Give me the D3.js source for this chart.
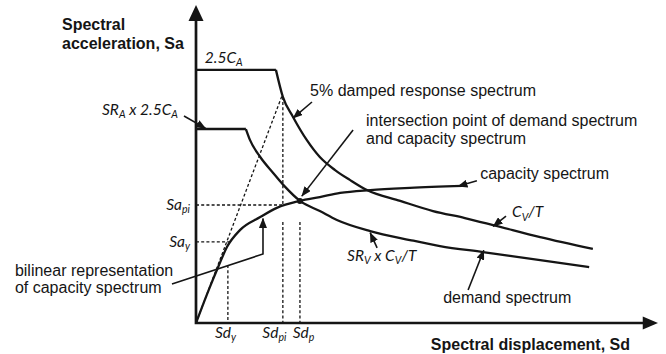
<!DOCTYPE html>
<html>
<head>
<meta charset="utf-8">
<script src="https://cdn.jsdelivr.net/npm/d3@7"></script>
<style>
  html, body { margin: 0; padding: 0; background: #fff; }
  svg { display: block; }
</style>
</head>
<body>
<svg id="chart" width="666" height="354"></svg>
<script>
// Capacity spectrum method, ADRS format (spectral displacement vs spectral acceleration,
// arbitrary units 0–100 on both axes).

// 5 % damped elastic response spectrum: 2.5CA plateau, then CV/T branch
const responseSd = [0, 17.3, 18.8, 21.0, 24.0, 26.8, 30.1, 33.3, 37.0, 44.2, 51.3, 58.2, 64.3, 74.5, 85.9];
const responseSa = [79.6, 79.6, 71.1, 64.8, 57.5, 52.2, 48.1, 45.0, 41.8, 38.4, 35.2, 33.0, 30.8, 27.0, 23.3];

// Reduced (demand) spectrum: SRA x 2.5CA plateau, then SRV x CV/T branch
const demandSd = [0, 10.8, 11.7, 13.9, 16.7, 19.3, 22.5, 26.8, 30.5, 37.7, 46.3, 52.8, 62.1, 74.5, 85.1];
const demandSa = [61.0, 61.0, 57.5, 52.2, 47.2, 42.8, 38.4, 35.2, 32.4, 28.9, 26.1, 24.2, 22.3, 19.8, 17.6];

// Capacity spectrum (pushover curve converted to ADRS)
const capacitySd = [0, 3.0, 4.8, 6.7, 9.5, 13.9, 17.5, 22.5, 26.8, 31.2, 37.7, 46.3, 57.6];
const capacitySa = [0, 11.3, 17.6, 23.9, 29.2, 33.3, 36.2, 38.4, 39.6, 40.9, 41.8, 42.5, 43.1];

// Characteristic points
const sdY = 6.7, saY = 25.5;       // yield point of the bilinear representation
const sdPi = 18.8, saPi = 37.1;    // trial performance point
const sdP = 22.5, saP = 38.4;      // intersection of demand and capacity spectra
const elasticTopSa = 71.1;         // initial stiffness line meets the 5 % spectrum at Sd = sdPi

// Tick labels (base letter, subscript)
const saTickValues = [saY, saPi];
const saTickLabels = [["Sa", "y"], ["Sa", "pi"]];
const sdTickValues = [sdY, sdPi, sdP];
const sdTickLabels = [["Sd", "y"], ["Sd", "pi"], ["Sd", "p"]];

const svg = d3.select("#chart");
const x = d3.scaleLinear().domain([0, 100]).range([196, 658]);
const y = d3.scaleLinear().domain([0, 100]).range([323, 5]);

const ink = "#151515";
const textFont = "'Liberation Sans', Arial, sans-serif";
const mathFont = "Lato, 'Open Sans', sans-serif";

// arrowhead used by the leader lines
svg.append("defs").append("marker")
  .attr("id", "tip")
  .attr("viewBox", "0 0 10 8")
  .attr("refX", 9.5).attr("refY", 4)
  .attr("markerWidth", 10).attr("markerHeight", 8)
  .attr("markerUnits", "userSpaceOnUse")
  .attr("orient", "auto")
  .append("path").attr("d", "M0,0 L10,4 L0,8 Z").attr("fill", ink);

const zip = (a, b) => a.map((v, i) => [v, b[i]]);
const line = d3.line().x(d => x(d[0])).y(d => y(d[1]));

// ---- dashed construction lines ----
const dashes = svg.append("g")
  .attr("fill", "none").attr("stroke", ink)
  .attr("stroke-width", 1.3).attr("stroke-dasharray", "3,2.2");

const guideSegments = [
  [[0, 0], [sdPi - 0.2, elasticTopSa + 0.3]],   // initial stiffness line
  [[sdPi, elasticTopSa], [sdPi, saPi]],         // from the 5 % spectrum down to Sa_pi
  [[0, saPi], [sdPi, saPi]],                    // Sa_pi
  [[0, saY], [sdY + 0.6, saY]],                 // Sa_y
  [[sdY + 0.2, 18.2], [sdY + 0.2, 0]],          // Sd_y
  [[sdPi, 31.8], [sdPi, 0]],                    // Sd_pi
  [[sdP, 31.8], [sdP, 0]]                       // Sd_p
];
dashes.selectAll("path").data(guideSegments).join("path").attr("d", line);

// ---- spectra ----
const curves = svg.append("g").attr("fill", "none").attr("stroke", ink)
  .attr("stroke-width", 2.3).attr("stroke-linejoin", "round");

function spectrum(sd, sa) {
  const pts = zip(sd, sa);
  // straight plateau, smooth descending branch
  curves.append("path").attr("d", line(pts.slice(0, 2)));
  curves.append("path").attr("d", line.curve(d3.curveMonotoneX)(pts.slice(1)));
  line.curve(d3.curveLinear);
}
spectrum(responseSd, responseSa);
spectrum(demandSd, demandSa);
curves.append("path")
  .attr("d", line.curve(d3.curveMonotoneX)(zip(capacitySd, capacitySa)));
line.curve(d3.curveLinear);

svg.append("circle").attr("cx", x(sdP)).attr("cy", y(saP)).attr("r", 3).attr("fill", ink);

// ---- axes with arrowheads ----
const axes = svg.append("g");
axes.append("path")
  .attr("d", `M${x(0)},${y(95.3)} L${x(0)},${y(0)} L${x(96.8)},${y(0)}`)
  .attr("fill", "none").attr("stroke", ink).attr("stroke-width", 2.7);
axes.append("path")
  .attr("d", `M${x(0)},${y(100)} L${x(0) - 7.5},${y(95)} L${x(0) + 7.5},${y(95)} Z`)
  .attr("fill", ink);
axes.append("path")
  .attr("d", `M${x(100)},${y(0)} L${x(96.7)},${y(0) - 6.5} L${x(96.7)},${y(0) + 6.5} Z`)
  .attr("fill", ink);

// text with an optional subscript run
function rich(sel, runs, size) {
  runs.forEach(r => {
    const ts = sel.append("tspan").text(r.t);
    if (r.sub) ts.attr("font-size", size * 0.68).attr("dy", size * 0.22);
    else if (r.after) ts.attr("dy", -size * 0.22);
  });
  return sel;
}

// ---- tick labels (italic, subscripted) ----
const mathSize = 15.5;
const yAxisG = svg.append("g").attr("transform", `translate(${x(0)},0)`)
  .call(d3.axisLeft(y).tickValues(saTickValues).tickSize(0).tickPadding(6).tickFormat(""));
yAxisG.select(".domain").remove();
yAxisG.selectAll(".tick text").each(function (d, i) {
  const t = d3.select(this).attr("font-family", mathFont).attr("font-style", "italic")
    .attr("font-size", mathSize).attr("fill", ink).attr("dy", "0.28em");
  const [b, s] = saTickLabels[i];
  rich(t, [{ t: b }, { t: s, sub: true }], mathSize);
});

const sdLabelShift = [-2, -9, 3];
const xAxisG = svg.append("g").attr("transform", `translate(0,${y(0)})`)
  .call(d3.axisBottom(x).tickValues(sdTickValues).tickSize(0).tickPadding(4).tickFormat(""));
xAxisG.select(".domain").remove();
xAxisG.selectAll(".tick text").each(function (d, i) {
  const t = d3.select(this).attr("font-family", mathFont).attr("font-style", "italic")
    .attr("font-size", mathSize).attr("fill", ink).attr("dy", "0.71em")
    .attr("x", sdLabelShift[i]);
  const [b, s] = sdTickLabels[i];
  rich(t, [{ t: b }, { t: s, sub: true }], mathSize);
});

// ---- axis titles ----
const titles = svg.append("g").attr("font-family", textFont).attr("font-weight", "bold")
  .attr("font-size", 16).attr("fill", ink);
titles.append("text").attr("x", 62).attr("y", 30).text("Spectral");
titles.append("text").attr("x", 62).attr("y", 49).text("acceleration, Sa");
titles.append("text").attr("x", 630).attr("y", 350).attr("text-anchor", "end")
  .text("Spectral displacement, Sd");

// ---- annotations: label position, leader polyline (data units) ----
const notes = svg.append("g").attr("fill", ink);
const leaders = svg.append("g").attr("fill", "none").attr("stroke", ink)
  .attr("stroke-width", 1.6);

const plainNotes = [
  { lines: ["5% damped response spectrum"], at: [24.7, 71.4], leader: [[25.1, 69.5], [21.0, 64.4]] },
  { lines: ["intersection point of demand spectrum", "and capacity spectrum"], at: [36.8, 61.9],
    leader: [[34.0, 60.7], [22.9, 39.9]] },
  { lines: ["capacity spectrum"], at: [61.5, 45.3], leader: [[60.8, 44.7], [56.7, 43.0]] },
  { lines: ["demand spectrum"], at: [53.5, 6.3], leader: [[58.9, 10.4], [62.3, 22.9]] },
  { lines: ["bilinear representation", "of capacity spectrum"], at: [-39.2, 14.8],
    leader: [[-5.2, 12.3], [14.5, 21.7], [14.5, 32.9]] }
];
plainNotes.forEach(n => {
  const t = notes.append("text").attr("font-family", textFont).attr("font-size", 16)
    .attr("x", x(n.at[0])).attr("y", y(n.at[1]));
  n.lines.forEach((s, i) => t.append("tspan").attr("x", x(n.at[0])).attr("dy", i ? 17.5 : 0).text(s));
  leaders.append("path").attr("d", line(n.leader)).attr("marker-end", "url(#tip)");
});

const mathNotes = [
  { runs: [{ t: "2.5" }, { t: "C" }, { t: "A", sub: true }], at: [1.9, 81.8], anchor: "start" },
  { runs: [{ t: "SR" }, { t: "A", sub: true }, { t: " x 2.5", after: true }, { t: "C" }, { t: "A", sub: true }],
    at: [-3.9, 65.4], anchor: "end", leader: [[-2.6, 65.1], [2.1, 61.2]] },
  { runs: [{ t: "C" }, { t: "V", sub: true }, { t: "/T", after: true }], at: [68.4, 33.3], anchor: "start",
    leader: [[67.1, 33.6], [64.3, 30.4]] },
  { runs: [{ t: "SR" }, { t: "V", sub: true }, { t: " x ", after: true }, { t: "C" }, { t: "V", sub: true },
    { t: "/T", after: true }], at: [32.7, 19.5], anchor: "start", leader: [[39.2, 23.6], [37.7, 28.4]] }
];
mathNotes.forEach(n => {
  const t = notes.append("text").attr("font-family", mathFont).attr("font-style", "italic")
    .attr("font-size", mathSize).attr("text-anchor", n.anchor)
    .attr("x", x(n.at[0])).attr("y", y(n.at[1]));
  rich(t, n.runs, mathSize);
  if (n.leader) leaders.append("path").attr("d", line(n.leader)).attr("marker-end", "url(#tip)");
});
</script>
</body>
</html>
